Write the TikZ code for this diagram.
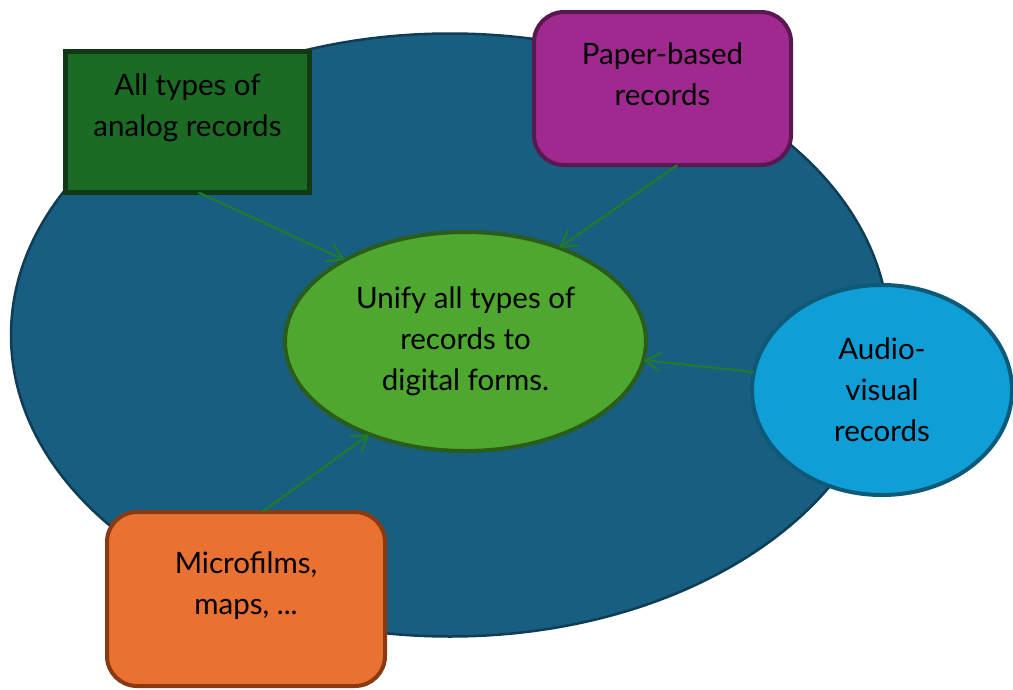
\documentclass[tikz,border=0pt]{standalone}
\usepackage{fontspec}
\setmainfont{Lato}
\usetikzlibrary{shapes.geometric,arrows.meta,calc}
\definecolor{poolblue}{HTML}{175E80}
\definecolor{poolrim}{HTML}{0E3D55}
\definecolor{analogfill}{HTML}{1B6B25}
\definecolor{analogrim}{HTML}{103A14}
\definecolor{paperfill}{HTML}{A0298F}
\definecolor{paperrim}{HTML}{5A1850}
\definecolor{unifyfill}{HTML}{4EA72E}
\definecolor{unifyrim}{HTML}{2B5C1A}
\definecolor{avfill}{HTML}{0F9ED5}
\definecolor{avrim}{HTML}{0C5A78}
\definecolor{microfill}{HTML}{E97132}
\definecolor{microrim}{HTML}{8A3A12}
\definecolor{linkgreen}{HTML}{1F7A2E}
\begin{document}
\begin{tikzpicture}[x=1pt,y=-1pt,
  txt/.style={font=\fontsize{29.5}{41}\selectfont, align=center, text=black},
  box/.style={inner sep=0pt, outer sep=0pt, line width=4pt},
  link/.style={draw=linkgreen, line width=2.2pt,
    -{Straight Barb[length=15pt,width=19pt]}}]
\useasboundingbox (0,0) rectangle (1013,689);
\clip (0,0) rectangle (1013,689);

% background pool
\node[ellipse, box, draw=poolrim, fill=poolblue, line width=2.5pt,
  minimum width=878pt, minimum height=603pt] (pool) at (450,335) {};

% central goal
\node[ellipse, box, draw=unifyrim, fill=unifyfill, txt,
  minimum width=361pt, minimum height=219pt] (unify) at (465.5,341.5)
  {Unify all types of\\records to\\digital forms.};

% sources
\node[rectangle, box, draw=analogrim, fill=analogfill, line width=5pt,
  minimum width=244pt, minimum height=141pt,
  label={[txt, name=analogtext, yshift=14.5pt]center:All types of\\analog records}]
  (analog) at (187.5,122) {};

\node[rectangle, rounded corners=30pt, box, draw=paperrim, fill=paperfill,
  minimum width=257pt, minimum height=153pt,
  label={[txt, name=papertext, yshift=14.5pt]center:Paper-based\\records}]
  (paper) at (662.5,88.5) {};

\node[ellipse, box, draw=avrim, fill=avfill, txt,
  minimum width=260pt, minimum height=210pt] (av) at (882,390)
  {Audio-\\visual\\records};

\node[rectangle, rounded corners=30pt, box, draw=microrim, fill=microfill,
  minimum width=278pt, minimum height=174pt,
  label={[txt, name=microtext, yshift=13pt]center:Microfilms,\\maps, ...}]
  (micro) at (246,599) {};

% connectors
\coordinate (analogout) at ($(analog.south)+(11,0)$);
\coordinate (paperout) at ($(paper.south)+(15,0)$);
\coordinate (microout) at ($(micro.north)+(16,0)$);
\draw[link] (analogout) -- (unify.146.7);
\draw[link] (paperout) -- (unify.45.9);
\draw[link] (av.172) -- (unify.-6.9);
\draw[link] (microout) -- (unify.224.4);
\end{tikzpicture}
\end{document}
